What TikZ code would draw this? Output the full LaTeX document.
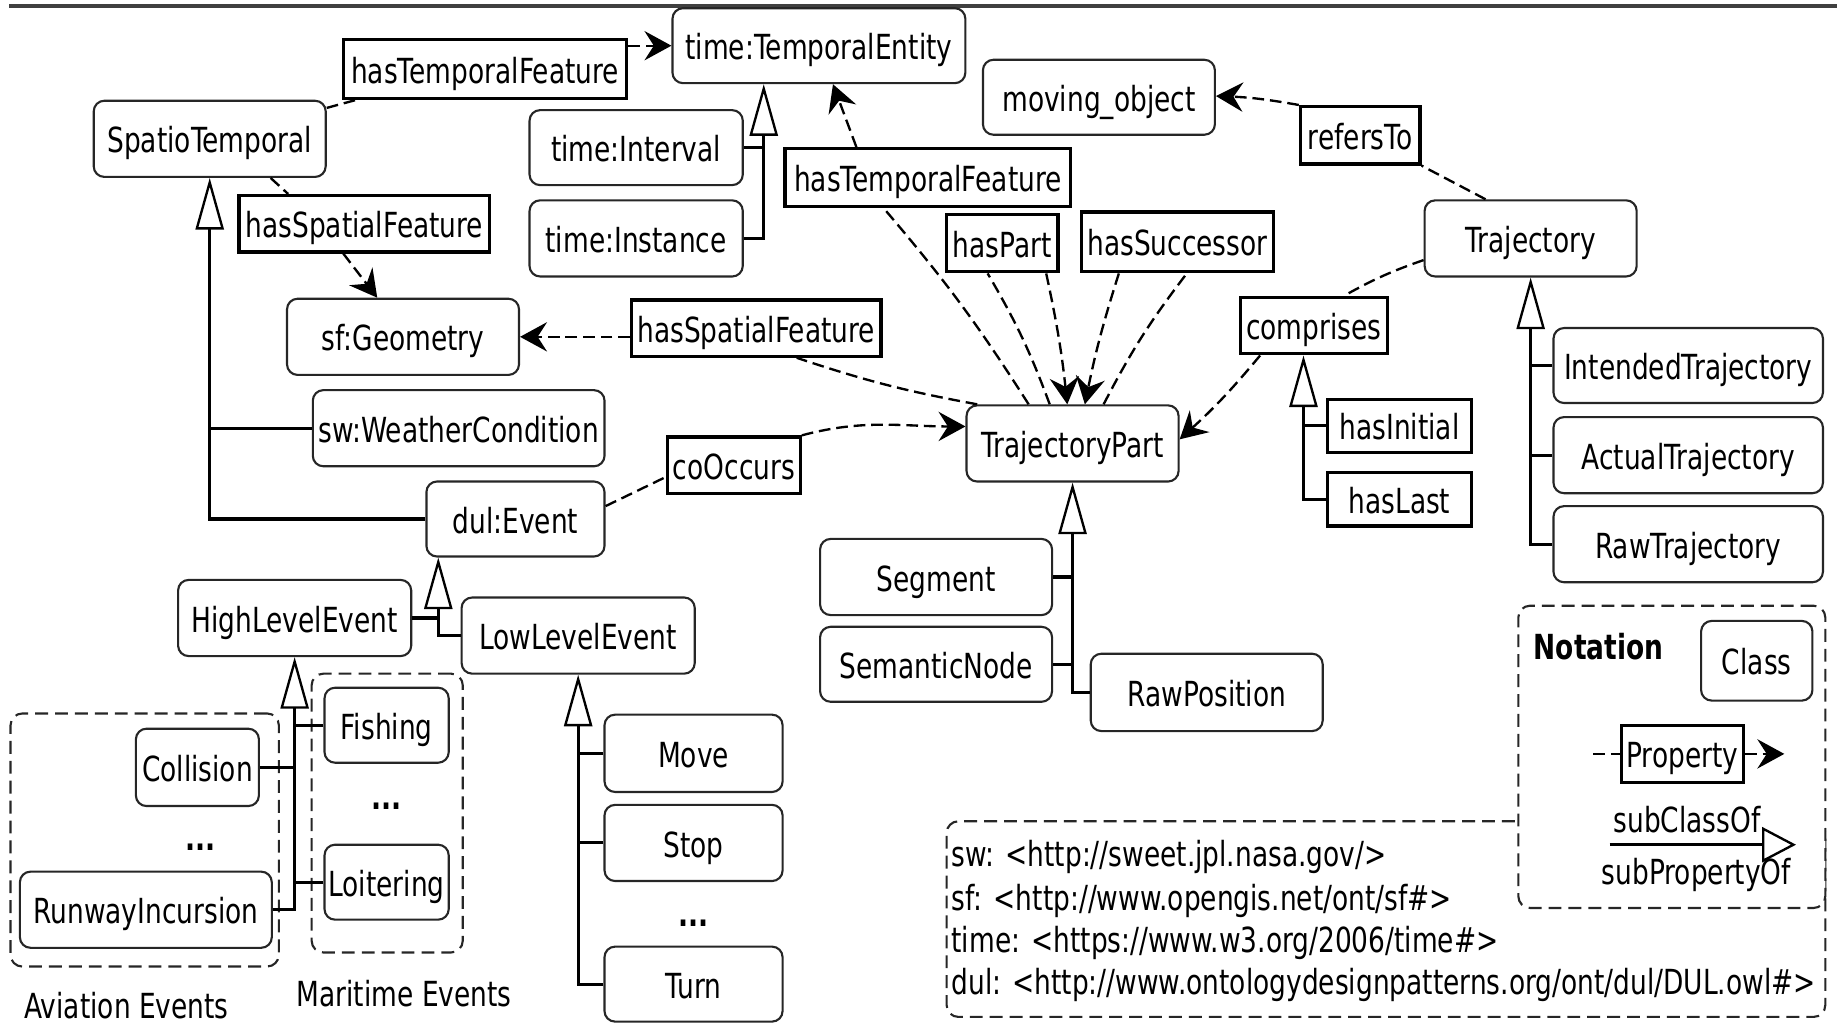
\documentclass[tikz,border=0pt]{standalone}
\usepackage{fontspec}
\setmainfont{DejaVu Sans}[FakeStretch=0.765]
\usetikzlibrary{arrows.meta,calc}

\newcommand{\basesize}{\fontsize{29.5}{36}\selectfont}

\tikzset{
  cls/.style={draw=black!85, line width=1.8pt, rounded corners=9pt, fill=white,
              inner sep=0pt, text height=24pt, text depth=0pt},
  prp/.style={draw=black, line width=2.8pt, fill=white,
              inner sep=0pt, text height=24pt, text depth=0pt},
  lbl/.style={inner sep=0pt, text height=24pt, text depth=0pt},
  boldlbl/.style={lbl, font=\basesize\bfseries},
  rel/.style={line width=2pt, dash pattern=on 10pt off 5pt},
  relarrow/.style={rel, -{Stealth[length=23pt, width=25pt, inset=8pt]}},
  sub/.style={line width=2.6pt},
  gen/.style={sub, -{Triangle[open, length=44pt, width=24pt, line width=2pt]}},
  grp/.style={draw=black!85, line width=1.8pt, dash pattern=on 11pt off 6pt,
              rounded corners=10pt, inner sep=0pt},
}

\begin{document}
\begin{tikzpicture}[x=1pt, y=-1pt, font=\basesize]
\useasboundingbox (0,0) rectangle (1568,873);

% header rule
\draw[line width=3pt, black!75] (8,5) -- (1568,5);

% ---- group frames ----
\node[grp, minimum width=229pt, minimum height=216pt] (aviation) at (123.5,717) {};
\node[grp, minimum width=129pt, minimum height=238pt] (maritime) at (330.5,694) {};
\node[lbl] (avlbl) at (108,857) {Aviation Events};
\node[lbl] (malbl) at (345,847) {Maritime Events};

% ---- legend frames ----
\node[grp, fill=white, minimum width=750pt, minimum height=167pt] (prefixes) at (1183,784.5) {};
\node[grp, fill=white, minimum width=262pt, minimum height=258pt] (notation) at (1427,646) {};

% ---- classes ----
\node[cls, minimum width=250pt, minimum height=64pt] (te)   at (699,39)      {time:TemporalEntity};
\node[cls, minimum width=198pt, minimum height=65pt] (spt)  at (179,118.5)   {SpatioTemporal};
\node[cls, minimum width=182pt, minimum height=64pt] (tint) at (543,126)     {time:Interval};
\node[cls, minimum width=182pt, minimum height=65pt] (tins) at (543,203.5)   {time:Instance};
\node[cls, minimum width=198pt, minimum height=65pt] (geo)  at (344,287.5)   {sf:Geometry};
\node[cls, minimum width=198pt, minimum height=64pt] (mo)   at (938,83)      {moving\_object};
\node[cls, minimum width=181pt, minimum height=65pt] (traj) at (1306.5,203.5){Trajectory};
\node[cls, minimum width=181pt, minimum height=65pt] (tp)   at (915.5,378.5) {TrajectoryPart};
\node[cls, minimum width=249pt, minimum height=65pt] (wc)   at (391.5,365.5) {sw:WeatherCondition};
\node[cls, minimum width=152pt, minimum height=64pt] (ev)   at (440,443)     {dul:Event};
\node[cls, minimum width=199pt, minimum height=65pt] (hle)  at (251.5,527.5) {HighLevelEvent};
\node[cls, minimum width=199pt, minimum height=65pt] (lle)  at (493.5,542.5) {LowLevelEvent};
\node[cls, minimum width=198pt, minimum height=65pt] (seg)  at (799,492.5)   {Segment};
\node[cls, minimum width=198pt, minimum height=64pt] (sem)  at (799,567)     {SemanticNode};
\node[cls, minimum width=198pt, minimum height=66pt] (rawp) at (1030,591)    {RawPosition};
\node[cls, minimum width=230pt, minimum height=64pt] (it)   at (1441,312)    {IntendedTrajectory};
\node[cls, minimum width=230pt, minimum height=65pt] (at)   at (1441,388.5)  {ActualTrajectory};
\node[cls, minimum width=230pt, minimum height=65pt] (rt)   at (1441,464.5)  {RawTrajectory};
\node[cls, minimum width=105pt, minimum height=66pt] (col)  at (168.5,655)   {Collision};
\node[cls, minimum width=215pt, minimum height=65pt] (ri)   at (124.5,776.5) {RunwayIncursion};
\node[cls, minimum width=106pt, minimum height=64pt] (fish) at (330,619)     {Fishing};
\node[cls, minimum width=106pt, minimum height=64pt] (loit) at (330,753)     {Loitering};
\node[cls, minimum width=152pt, minimum height=66pt] (move) at (592,643)     {Move};
\node[cls, minimum width=152pt, minimum height=65pt] (stop) at (592,719.5)   {Stop};
\node[cls, minimum width=152pt, minimum height=64pt] (turn) at (592,840)     {Turn};

% ellipses for omitted subclasses
\node[boldlbl] (avdots) at (171.5,714) {...};
\node[boldlbl] (madots) at (330,679)   {...};
\node[boldlbl] (lldots) at (592,779)   {...};

% ---- properties ----
\node[prp, minimum width=242pt, minimum height=50pt] (htf1)    at (414,59)      {hasTemporalFeature};
\node[prp, minimum width=214pt, minimum height=48pt] (hsf1)    at (311,191)     {hasSpatialFeature};
\node[prp, minimum width=244pt, minimum height=49pt] (htf2)    at (792,151.5)   {hasTemporalFeature};
\node[prp, minimum width=95pt,  minimum height=49pt] (haspart) at (855.5,207.5) {hasPart};
\node[prp, minimum width=164pt, minimum height=51pt] (hassucc) at (1005,206.5)  {hasSuccessor};
\node[prp, minimum width=213pt, minimum height=48pt] (hsf2)    at (645.5,280)   {hasSpatialFeature};
\node[prp, minimum width=102pt, minimum height=49pt] (refers)  at (1161,115.5)  {refersTo};
\node[prp, minimum width=125pt, minimum height=48pt] (compr)   at (1121.5,278)  {comprises};
\node[prp, minimum width=113pt, minimum height=48pt] (coocc)   at (626.5,397)   {coOccurs};
\node[prp, minimum width=123pt, minimum height=45pt] (hinit)   at (1194.5,363.5){hasInitial};
\node[prp, minimum width=123pt, minimum height=46pt] (hlast)   at (1194.5,426)  {hasLast};

% ---- property connectors ----
\draw[rel] ([yshift=-7pt]spt.north east) -- ([xshift=12pt]htf1.south west);
\draw[relarrow] (htf1.east |- te.west) -- (te.west);
\draw[rel] ([xshift=52pt]spt.south) -- ([xshift=-65pt]hsf1.north);
\draw[relarrow] ([xshift=-18pt]hsf1.south) -- ([xshift=-22pt]geo.north);
\draw[rel] ([xshift=10pt]tp.north west) to[bend left=4] ([xshift=34.5pt]hsf2.south);
\draw[relarrow] (hsf2.west |- geo.east) -- (geo.east);
\draw[rel] ([xshift=-37.5pt]tp.north) to[bend right=4] ([xshift=-38pt]htf2.south);
\draw[relarrow] ([xshift=-61pt]htf2.north) -- ([xshift=12pt]te.south);
\draw[rel] ([xshift=-19.5pt]tp.north) to[bend right=5] ([xshift=-12.5pt]haspart.south);
\draw[relarrow] ([xshift=37.5pt]haspart.south) to[bend left=3] ([xshift=-4.5pt]tp.north);
\draw[relarrow] ([xshift=-50pt]hassucc.south) to[bend right=3] ([xshift=10.5pt]tp.north);
\draw[rel] ([xshift=26.5pt]tp.north) to[bend left=5] ([xshift=8pt]hassucc.south);
\draw[rel] ([xshift=-38.5pt]traj.north) -- (refers.south east);
\draw[relarrow] (refers.north west) to[bend right=4] ([yshift=1pt]mo.east);
\draw[rel] ([yshift=-18.5pt]traj.west) to[bend right=5] ([xshift=25.5pt]compr.north);
\draw[relarrow] ([xshift=18pt]compr.south west) to[bend left=4] ([yshift=3.5pt]tp.east);
\draw[rel] ([yshift=11pt]ev.east) -- ([yshift=-10pt]coocc.west);
\draw[relarrow] (coocc.north east) to[out=15, in=180] ([yshift=14.5pt]tp.west);

% ---- subclass / subproperty hierarchies ----
\draw[gen] (tins.east) -- ++(17,0) coordinate (teTrunk) -- (teTrunk |- te.south);
\draw[sub] (tint.east) -- (tint.east -| teTrunk);

\draw[gen] (ev.west) -| (spt.south);
\draw[sub] (wc.west) -- (wc.west -| spt.south);

\coordinate (evTip) at ([xshift=11pt]ev.south west);
\draw[gen] (lle.west) -| (evTip);
\draw[sub] (hle.east) -- (hle.east -| evTip);

\draw[gen] (ri.east) -| (hle.south);
\draw[sub] (col.east) -- (col.east -| hle.south);
\draw[sub] (fish.west) -- (fish.west -| hle.south);
\draw[sub] (loit.west) -- (loit.west -| hle.south);

\draw[gen] (turn.west) -| (lle.south);
\draw[sub] (move.west) -- (move.west -| lle.south);
\draw[sub] (stop.west) -- (stop.west -| lle.south);

\draw[gen] (rawp.west) -| (tp.south);
\draw[sub] (seg.east) -- (seg.east -| tp.south);
\draw[sub] (sem.east) -- (sem.east -| tp.south);

\draw[gen] (rt.west) -| (traj.south);
\draw[sub] (it.west) -- (it.west -| traj.south);
\draw[sub] (at.west) -- (at.west -| traj.south);

\coordinate (cmTip) at ([xshift=55pt]compr.south west);
\draw[gen] (hlast.west) -| (cmTip);
\draw[sub] (hinit.west) -- (hinit.west -| cmTip);

% ---- notation legend ----
\node[boldlbl, anchor=west] (nothead) at (1309,551) {Notation};
\node[cls, minimum width=95pt, minimum height=68pt] (clsbox) at (1499.5,564) {Class};
\node[prp, minimum width=104pt, minimum height=49pt] (prop) at (1436,643.5) {Property};
\coordinate (lgA) at (1360,643.5);
\coordinate (lgB) at (1523,643.5);
\draw[rel] (lgA) -- (prop.west);
\draw[relarrow] (prop.east) -- (lgB);
\node[lbl] (subcl) at (1440,699) {subClassOf};
\node[lbl] (subpr) at (1448,743) {subPropertyOf};
\coordinate (lgC) at (1374,721);
\coordinate (lgD) at (1533,721);
\draw[sub, -{Triangle[open, length=29pt, width=30pt, line width=2pt]}] (lgC) -- (lgD);

% ---- namespace prefixes ----
\node[lbl, anchor=west] (pfsw)   at (812,728) {sw: <http://sweet.jpl.nasa.gov/>};
\node[lbl, anchor=west] (pfsf)   at (812,765) {sf: <http://www.opengis.net/ont/sf\#>};
\node[lbl, anchor=west] (pftime) at (812,801) {time: <https://www.w3.org/2006/time\#>};
\node[lbl, anchor=west] (pfdul)  at (812,837) {dul: <http://www.ontologydesignpatterns.org/ont/dul/DUL.owl\#>};

\end{tikzpicture}
\end{document}
